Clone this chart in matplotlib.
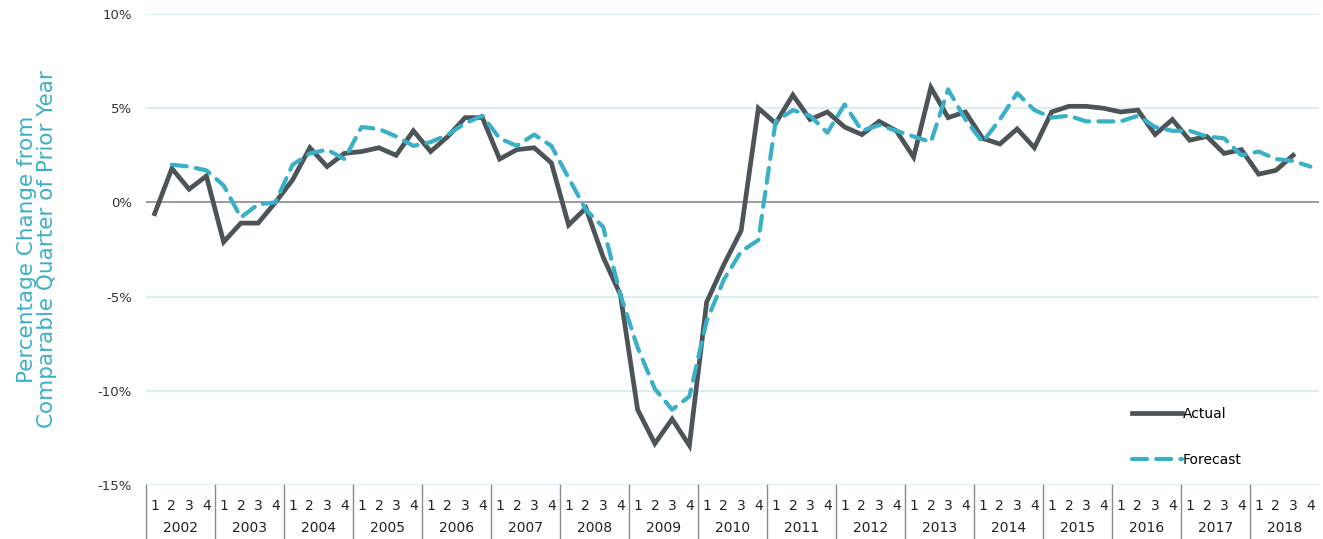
import numpy as np
import matplotlib
matplotlib.use("Agg")
import matplotlib.pyplot as plt

# quarterly values, 2002 Q1 .. 2018 Q4 (percent change from same quarter of prior year)
years = list(range(2002, 2019))
quarters = ['1', '2', '3', '4']

actual = [-0.6, 1.8, 0.7, 1.4,
          -2.1, -1.1, -1.1, 0.0,
          1.2, 2.9, 1.9, 2.6,
          2.7, 2.9, 2.5, 3.8,
          2.7, 3.5, 4.5, 4.5,
          2.3, 2.8, 2.9, 2.1,
          -1.2, -0.3, -2.9, -4.9,
          -11.0, -12.8, -11.5, -12.9,
          -5.3, -3.3, -1.5, 5.0,
          4.2, 5.7, 4.4, 4.8,
          4.0, 3.6, 4.3, 3.8,
          2.4, 6.1, 4.5, 4.8,
          3.4, 3.1, 3.9, 2.9,
          4.8, 5.1, 5.1, 5.0,
          4.8, 4.9, 3.6, 4.4,
          3.3, 3.5, 2.6, 2.8,
          1.5, 1.7, 2.5, np.nan]

forecast = [np.nan, 2.0, 1.9, 1.7,
            0.9, -0.8, -0.1, 0.0,
            2.0, 2.6, 2.8, 2.3,
            4.0, 3.9, 3.5, 3.0,
            3.2, 3.6, 4.2, 4.6,
            3.4, 3.0, 3.6, 3.0,
            1.3, -0.4, -1.3, -4.9,
            -7.7, -9.9, -11.0, -10.3,
            -6.3, -4.1, -2.6, -2.0,
            4.3, 4.9, 4.6, 3.7,
            5.2, 3.8, 4.1, 3.8,
            3.5, 3.2, 6.0, 4.4,
            3.2, 4.4, 5.8, 4.9,
            4.5, 4.6, 4.3, 4.3,
            4.3, 4.6, 4.0, 3.8,
            3.8, 3.5, 3.4, 2.5,
            2.7, 2.3, 2.2, 1.9]

grey = '#4d5457'
teal = '#3ab0c8'
grid_col = '#d3ebf1'

fig = plt.figure(figsize=(13.23, 5.39), dpi=100)
ax = fig.add_axes([146 / 1323, 1 - 485 / 539, (1319 - 146) / 1323, (485 - 14) / 539])

x = np.arange(len(years) * 4)
ax.plot(x, actual, color=grey, lw=3.4, solid_joinstyle='miter', label='Actual', zorder=3)
ax.plot(x, forecast, color=teal, lw=3.0, linestyle=(0, (3.6, 2.2)),
        dash_capstyle='round', label='Forecast', zorder=4)

ax.set_xlim(-0.5, len(x) - 0.5)
ax.set_ylim(-15, 10)
ax.set_yticks([-15, -10, -5, 0, 5, 10])
ax.set_yticklabels(['-15%', '-10%', '-5%', '0%', '5%', '10%'])
for v in [-15, -10, -5, 5, 10]:
    ax.axhline(v, color=grid_col, lw=1.2, zorder=1)
ax.axhline(0, color='#8a8a8a', lw=1.2, zorder=2)

for s in ax.spines.values():
    s.set_visible(False)
ax.tick_params(axis='y', length=0, pad=10, labelsize=9.5, labelcolor='#333333')

# quarter labels
ax.set_xticks(x)
ax.set_xticklabels(quarters * len(years))
ax.tick_params(axis='x', length=0, pad=10, labelsize=10, labelcolor='#222222')

# year labels and separators
tr = ax.get_xaxis_transform()
for k, yr in enumerate(years):
    ax.text(4 * k + 1.5, -0.092, str(yr), transform=tr, ha='center', va='center',
            fontsize=10, color='#222222')
for k in range(len(years)):
    ax.plot([4 * k - 0.5, 4 * k - 0.5], [0, -0.12], transform=tr, color='#8a8a8a',
            lw=1.0, clip_on=False)

ax.set_ylabel('Percentage Change from\nComparable Quarter of Prior Year',
              color=teal, fontsize=15.5, linespacing=1.02)
ax.yaxis.set_label_coords(-0.076, 0.5)

ax.legend(loc='lower right', bbox_to_anchor=(0.945, 0.012), frameon=False,
          fontsize=10, labelspacing=2.3, handlelength=3.6, handletextpad=0.1)

fig.savefig('out.png', dpi=100)
